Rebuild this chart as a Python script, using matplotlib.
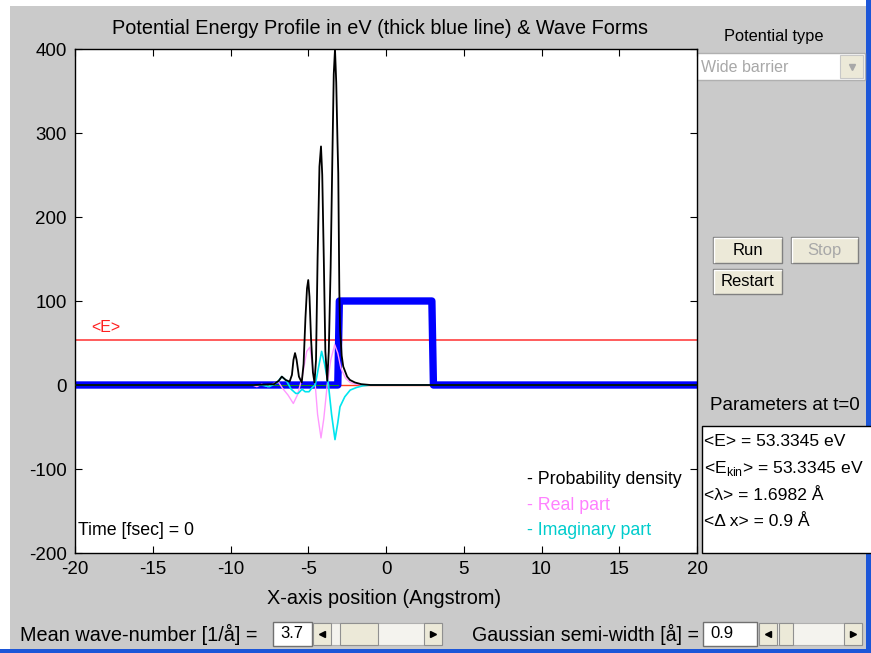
import numpy as np
import matplotlib
matplotlib.use("Agg")
import matplotlib.pyplot as plt
from matplotlib.patches import Rectangle

plt.rcParams['font.family'] = ['Liberation Sans', 'DejaVu Sans']
plt.rcParams['axes.unicode_minus'] = False

# ---------------- data ----------------
pot_x = [-20, -3.1, -3.0, 2.95, 3.05, 20]
pot_v = [0, 0, 100, 100, 0, 0]

mean_E = 53.3345

dens_x = [-20, -8.5, -7.2, -6.9, -6.7, -6.45, -6.2, -6.05, -5.95, -5.85, -5.75,
          -5.6, -5.42, -5.3, -5.18, -5.08, -5.0, -4.92, -4.82, -4.7, -4.6,
          -4.5, -4.4, -4.28, -4.18, -4.1, -4.0, -3.9, -3.78, -3.68, -3.56,
          -3.45, -3.36, -3.28, -3.2, -3.12, -3.07, -3.0, -2.95, -2.85, -2.75,
          -2.5, -2.32, -2.0, -1.6, -1.0, 20]
dens_v = [0, 0, 1, 5, 10, 6, 4, 12, 30, 38, 30,
          10, 3, 25, 80, 115, 125, 105, 55, 15, 3,
          30, 150, 260, 284, 250, 150, 40, 5, 40, 140,
          270, 370, 400, 360, 290, 252, 110, 65, 35, 22,
          10, 6, 3, 1, 0, 0]

re_x = [-20, -8.6, -8.3, -8.0, -7.6, -7.2, -6.9, -6.65, -6.3, -5.96, -5.7,
        -5.4, -5.1, -4.9, -4.7, -4.55, -4.4, -4.18, -4.0, -3.78, -3.55, -3.3,
        -3.1, -2.9, -2.6, -2.3, -2.0, -1.5, 20]
re_v = [0, 0, -2, 1, -2, 2, 3, -4, -12, -22, -12,
        8, 40, 45, 20, 0, -35, -63, -40, 0, 30, 48,
        38, 20, 8, 3, 1, 0, 0]

im_x = [-20, -8.0, -7.5, -7.0, -6.7, -6.4, -6.1, -5.8, -5.65, -5.4, -5.2,
        -4.95, -4.75, -4.55, -4.35, -4.14, -3.95, -3.7, -3.5, -3.28, -3.1,
        -2.96, -2.65, -2.3, -1.9, -1.5, -1.0, 20]
im_v = [0, 0, -2, 3, 10, 5, -5, -10, -10, -5, -8,
        -8, -3, 0, 20, 40, 25, 0, -35, -65, -45,
        -26, -14, -6, -3, -1, 0, 0]

x_ticks = [-20, -15, -10, -5, 0, 5, 10, 15, 20]
y_ticks = [-200, -100, 0, 100, 200, 300, 400]

params = ["<E> = 53.3345 eV", "<E$_{\\mathregular{kin}}$> = 53.3345 eV",
          "<\u03bb> = 1.6982 \u00c5", "<\u0394 x> = 0.9 \u00c5"]
k_value = "3.7"
width_value = "0.9"

# ---------------- figure ----------------
W, H = 871, 653
fig = plt.figure(figsize=(W / 100, H / 100), dpi=100)
fig.patch.set_facecolor('white')

ov = fig.add_axes([0, 0, 1, 1], zorder=0)
ov.set_xlim(0, W)
ov.set_ylim(H, 0)
ov.axis('off')

GRAY = '#cacaca'
BEIGE = '#ece9d8'

def rect(x0, y0, x1, y1, fc, ec='none', lw=0.0, z=1):
    ov.add_patch(Rectangle((x0, y0), x1 - x0, y1 - y0, facecolor=fc,
                           edgecolor=ec, linewidth=lw, zorder=z))

rect(10, 6, 866, 649, GRAY)
rect(866, 0, W, H, '#1c56d8')
rect(0, 649, W, H, '#1c56d8')

# Title / labels
ov.text(380, 28, "Potential Energy Profile in eV (thick blue line) & Wave Forms",
        ha='center', va='center', fontsize=14.3)
ov.text(384, 598, "X-axis position (Angstrom)", ha='center', va='center', fontsize=14.3)

# Potential type dropdown
ov.text(774, 37, "Potential type", ha='center', va='center', fontsize=11.8)
rect(697, 53, 865, 80, 'white', '#b0b0b0', 1.0)
ov.text(701, 67, "Wide barrier", ha='left', va='center', fontsize=11.5, color='#a8a8a8')
rect(840, 55, 863, 78, BEIGE, '#c8c8c8', 0.8, z=2)
ov.plot([851.5], [67], marker='v', ms=5, color='#a8a8a8', zorder=3)

# Buttons
def button(x0, y0, x1, y1, label, color='black'):
    rect(x0, y0, x1, y1, BEIGE, '#808080', 1.0, z=2)
    ov.plot([x0 + 1, x0 + 1, x1 - 1], [y1 - 1, y0 + 1, y0 + 1], color='white', lw=1, zorder=3)
    ov.text((x0 + x1) / 2, (y0 + y1) / 2 + 0.5, label, ha='center', va='center',
            fontsize=12, color=color, zorder=4)

button(713, 237, 782, 263, "Run")
button(791, 237, 858, 263, "Stop", color='#a8a8a8')
button(713, 269, 782, 294, "Restart")

# Parameters panel
ov.text(785, 405, "Parameters at t=0", ha='center', va='center', fontsize=13.6)
rect(702, 426, 872, 553, 'white', 'black', 1.0)
for i, s in enumerate(params):
    ov.text(704, 442 + i * 26.5, s, ha='left', va='center', fontsize=12.6, zorder=3)

# Bottom controls
def scrollbar(x0, x1, thumb0, thumb1, y0=623, y1=645):
    rect(x0, y0, x1, y1, '#f4f3ee', '#b0b0b0', 0.8, z=2)
    rect(x0, y0, x0 + 18, y1, BEIGE, '#909090', 0.8, z=3)
    rect(x1 - 18, y0, x1, y1, BEIGE, '#909090', 0.8, z=3)
    rect(thumb0, y0, thumb1, y1, BEIGE, '#909090', 0.8, z=3)
    ov.plot([x0 + 9], [(y0 + y1) / 2], marker='<', ms=5, color='black', zorder=4)
    ov.plot([x1 - 9], [(y0 + y1) / 2], marker='>', ms=5, color='black', zorder=4)

ov.text(20, 634, "Mean wave-number [1/\u00e5] =", ha='left', va='center', fontsize=14.3)
rect(273, 622, 312, 646, 'white', '#707070', 1.0, z=2)
ov.text(292, 634, k_value, ha='center', va='center', fontsize=12, zorder=3)
scrollbar(313, 442, 340, 378)

ov.text(472, 634, "Gaussian semi-width [\u00e5] =", ha='left', va='center', fontsize=14.1)
rect(703, 622, 757, 646, 'white', '#707070', 1.0, z=2)
ov.text(722, 634, width_value, ha='center', va='center', fontsize=12, zorder=3)
scrollbar(759, 862, 779, 793)

# ---------------- main axes ----------------
ax = fig.add_axes([75 / W, 1 - 553 / H, 622 / W, 504 / H], zorder=1)
ax.set_facecolor('white')
ax.set_xlim(-20, 20)
ax.set_ylim(-200, 400)

ax.axhline(mean_E, color='#ff3030', lw=1.1, zorder=1.5)
ax.axhline(0, color='#ff4020', lw=1.0, zorder=1.4)
ax.plot(pot_x, pot_v, color='#0000ff', lw=5.3, solid_joinstyle='round',
        solid_capstyle='butt', zorder=2)
pv = np.array(pot_v, dtype=float)
ax.plot(pot_x, np.where(pv == 0, pv, np.nan), color='#1a8a1a', lw=0.8, zorder=2.5)
ax.plot(re_x, re_v, color='#ff99ff', lw=1.0, zorder=3)
ax.plot(im_x, im_v, color='#00e5ee', lw=1.2, zorder=3.5)
ax.plot(dens_x, dens_v, color='black', lw=1.3, zorder=4)

ax.set_xticks(x_ticks)
ax.set_yticks(y_ticks)
ax.tick_params(direction='in', length=5, width=0.8, top=True, right=True,
               labelsize=13.5, pad=6)
for sp in ax.spines.values():
    sp.set_linewidth(1.0)

ax.text(-18.0, 69, "<E>", color='#ff2020', ha='center', va='center', fontsize=11.5)
ax.text(0.005, 0.045, "Time [fsec] = 0", transform=ax.transAxes, ha='left',
        va='center', fontsize=12.8)
leg_items = [("- Probability density", 'black'), ("- Real part", '#ff80ff'),
             ("- Imaginary part", '#00cccc')]
for i, (s, c) in enumerate(leg_items):
    ax.text(0.727, 0.145 - i * 0.05, s, transform=ax.transAxes, ha='left',
            va='center', fontsize=12.8, color=c)

fig.savefig("out.png", dpi=100, facecolor=fig.get_facecolor())
